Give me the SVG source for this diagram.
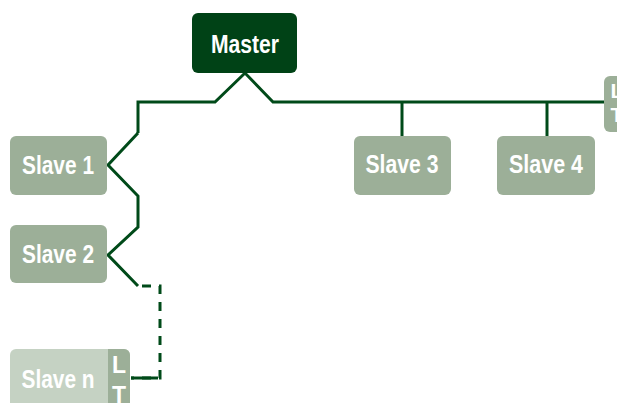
<svg xmlns="http://www.w3.org/2000/svg" width="617" height="403" viewBox="0 0 617 403">
<style>
.slave{fill:#9caf98}
.faded{fill:#c5d2c3}
.lbl{font-family:"Liberation Sans",Arial,sans-serif;font-weight:bold;fill:#fff;text-anchor:middle}
.wire{fill:none;stroke:#004a19;stroke-width:3;stroke-linejoin:miter}
</style>
<rect width="617" height="403" fill="#fff"/>
<g id="connectors">
<polyline class="wire" points="138,133 138,102 215,102 245,73 273,102 604,102"/>
<polyline class="wire" points="138,133 108,165 138,196 138,227 108,255 138,286"/>
<line class="wire" x1="402" y1="102" x2="402" y2="136"/>
<line class="wire" x1="547" y1="102" x2="547" y2="136"/>
<polyline class="wire" points="142,286 160,286 160,378 131,378" stroke-dasharray="9,8"/>
<line class="wire" x1="131" y1="378" x2="158" y2="378"/>
</g>
<g id="master">
<rect x="192" y="13" width="105" height="60" rx="6" fill="#004216"/>
<text class="lbl" x="245" y="53" font-size="25" textLength="68" lengthAdjust="spacingAndGlyphs">Master</text>
</g>
<g id="slave1">
<rect class="slave" x="10" y="136" width="97" height="59" rx="6"/>
<text class="lbl" x="58" y="174" font-size="25" textLength="72" lengthAdjust="spacingAndGlyphs">Slave 1</text>
</g>
<g id="slave2">
<rect class="slave" x="10" y="225" width="97" height="58" rx="6"/>
<text class="lbl" x="58" y="263" font-size="25" textLength="72" lengthAdjust="spacingAndGlyphs">Slave 2</text>
</g>
<g id="slave3">
<rect class="slave" x="354" y="136" width="97" height="59" rx="6"/>
<text class="lbl" x="402" y="173" font-size="25" textLength="73" lengthAdjust="spacingAndGlyphs">Slave 3</text>
</g>
<g id="slave4">
<rect class="slave" x="497" y="136" width="98" height="59" rx="6"/>
<text class="lbl" x="546" y="173" font-size="25" textLength="74" lengthAdjust="spacingAndGlyphs">Slave 4</text>
</g>
<g id="terminator-right">
<rect class="slave" x="604" y="76" width="30" height="56" rx="6"/>
<text class="lbl" x="617" y="98" font-size="21">L</text>
<text class="lbl" x="617" y="122" font-size="21">T</text>
</g>
<g id="slave-n">
<rect class="faded" x="10" y="349" width="120" height="70" rx="6"/>
<path class="slave" d="M108,349 H124 A6,6 0 0 1 130,355 V410 H108 Z"/>
<text class="lbl" x="58" y="388" font-size="25" textLength="73" lengthAdjust="spacingAndGlyphs">Slave n</text>
<text class="lbl" x="119" y="373" font-size="23">L</text>
<text class="lbl" x="119" y="403" font-size="23">T</text>
</g>
</svg>
